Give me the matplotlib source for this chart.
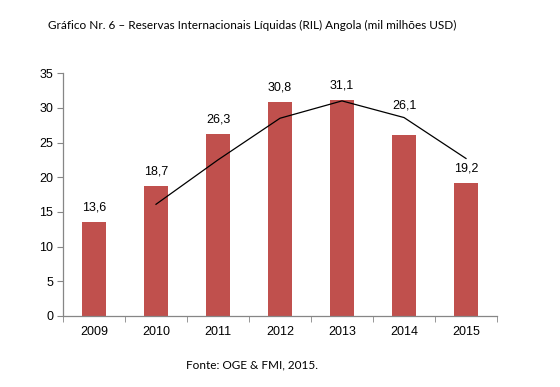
import numpy as np
import matplotlib
matplotlib.use("Agg")
import matplotlib.pyplot as plt
from matplotlib.ticker import FixedLocator

# dados
anos = ["2009", "2010", "2011", "2012", "2013", "2014", "2015"]
reservas = [13.6, 18.7, 26.3, 30.8, 31.1, 26.1, 19.2]
# linha de tendência (média móvel), a partir de 2010
anos_linha = ["2010", "2011", "2012", "2013", "2014", "2015"]
tendencia = [16.1, 22.5, 28.5, 31.0, 28.6, 22.7]

titulo = "Gráfico Nr. 6 – Reservas Internacionais Líquidas (RIL) Angola (mil milhões USD)"
fonte = "Fonte: OGE & FMI, 2015."

cor_barra = "#C0504D"
cor_eixo = "#868686"


def main():
    fig = plt.figure(figsize=(5.6, 3.87), dpi=100)
    ax = fig.add_axes([0.1125, 0.1835, 0.775, 0.6275])

    x = np.arange(len(anos))
    ax.bar(x, reservas, width=0.4, color=cor_barra, zorder=2)

    pos_linha = [anos.index(a) for a in anos_linha]
    ax.plot(pos_linha, tendencia, color="black", lw=0.9, zorder=3)

    # rótulos com vírgula decimal (o de 2014 fica acima da linha)
    desloc = {"2014": 2.1}
    for a, xi, v in zip(anos, x, reservas):
        ax.text(xi, v + 1.2 + desloc.get(a, 0), f"{v:.1f}".replace(".", ","),
                ha="center", va="bottom", fontsize=9, family="Liberation Sans",
                color="black")

    ax.set_xlim(-0.5, len(anos) - 0.5)
    ax.set_ylim(0, 35)
    ax.set_yticks(range(0, 36, 5))
    ax.set_xticks(x)
    ax.set_xticklabels(anos)
    ax.xaxis.set_minor_locator(FixedLocator(np.arange(-0.5, len(anos), 1)))
    ax.tick_params(axis="x", which="major", length=0, pad=7)
    ax.tick_params(axis="x", which="minor", length=4, color=cor_eixo, direction="out")
    ax.tick_params(axis="y", length=4, color=cor_eixo, direction="out", pad=3)
    for lab in ax.get_xticklabels() + ax.get_yticklabels():
        lab.set_family("Liberation Sans")
        lab.set_fontsize(9)

    for s in ["top", "right"]:
        ax.spines[s].set_visible(False)
    for s in ["left", "bottom"]:
        ax.spines[s].set_color(cor_eixo)
        ax.spines[s].set_linewidth(0.9)

    fig.text(0.45, 0.933, titulo, ha="center", va="center", fontsize=8.5, family="Lato")
    fig.text(0.45, 0.057, fonte, ha="center", va="center", fontsize=8.5, family="Lato")

    fig.savefig("out.png", dpi=100)


if __name__ == '__main__':
    main()
